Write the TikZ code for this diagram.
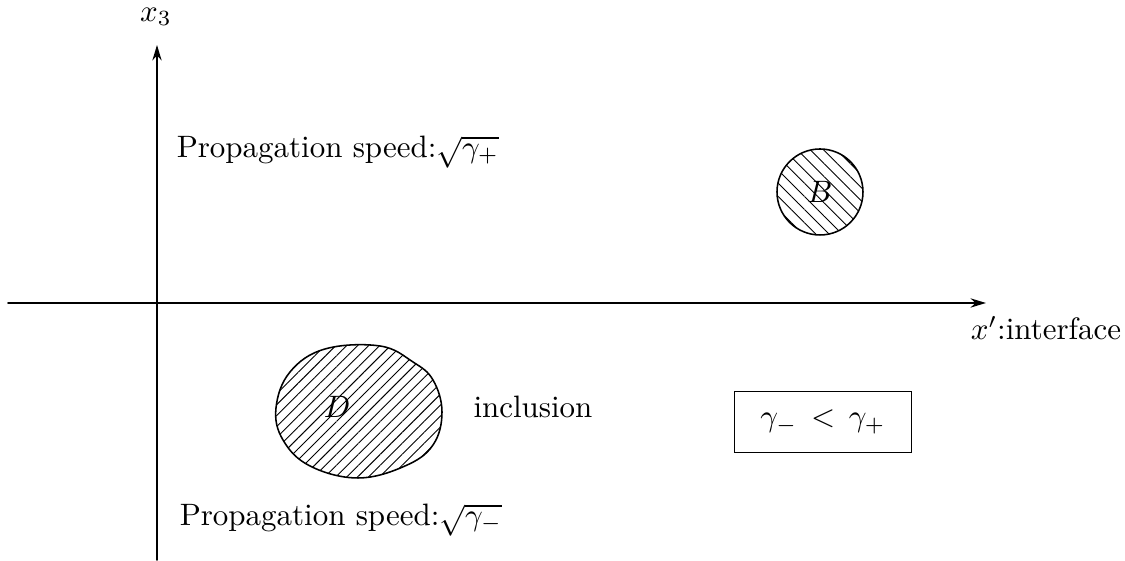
\documentclass[tikz,border=0pt]{standalone}
\usepackage{tkz-euclide}
\usetikzlibrary{patterns.meta,arrows.meta}

\begin{document}
\begin{tikzpicture}[x=0.01135cm,y=-0.01135cm,>={Stealth[length=5pt,width=3pt]},line width=0.5pt]
    \useasboundingbox (0,0) rectangle (1125,561);
    \tkzDefPoints{157/560/O1,157/45/O2,8/303/H1,986/303/H2}
    \tkzDefPoints{820/192/B,863/192/B1}
    \tkzDrawSegments[->,line width=0.5pt](O1,O2 H1,H2)
    \node (xthree) at (156,17) {$x_3$};
    \node (xprime) at (1046,328) {$x'$:interface};
    % upper and lower half
    \node[anchor=west,inner sep=0pt] (upper) at (176,152) {Propagation speed:$\sqrt{\gamma_+}$};
    \node[anchor=west,inner sep=0pt] (lower) at (179,520) {Propagation speed:$\sqrt{\gamma_-}$};
    % ball B
    \tkzDrawCircle[draw=black,line width=0.5pt,
        pattern={Lines[angle=-45,distance=3pt,line width=0.3pt]}](B,B1)
    \tkzLabelPoint[anchor=center](B){$B$}
    % inclusion D
    \draw[pattern={Lines[angle=45,distance=2.5pt,line width=0.3pt]}] plot[smooth cycle,tension=.65]
        coordinates {(276,408) (290,372) (325,349) (380,346) (413,362) (433,380)
        (442,412) (433,445) (405,466) (358,478) (310,466) (283,440)};
    \node (D) at (337,407) {$D$};
    \node (incl) at (533,407) {inclusion};
    \node[draw,minimum width=2.01cm,minimum height=0.69cm]
        (speed) at (823,422) {$\gamma_- \,<\, \gamma_+$};
\end{tikzpicture}
\end{document}
